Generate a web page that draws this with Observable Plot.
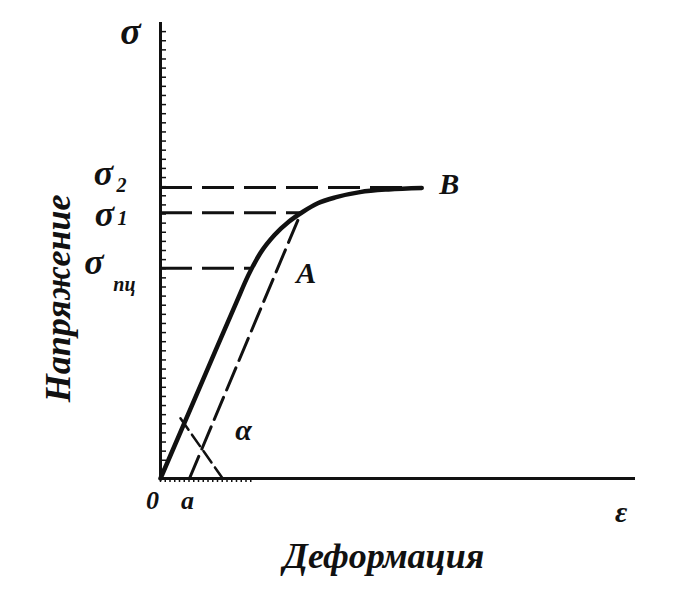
<!DOCTYPE html>
<html><head><meta charset="utf-8">
<script src="https://cdn.jsdelivr.net/npm/d3@7"></script>
<script src="https://cdn.jsdelivr.net/npm/@observablehq/plot@0.6"></script>
<style>body{margin:0;background:#fff}</style>
</head><body><div id="chart"></div>
<script>
// loading curve (strain, stress)
const curveX = [0, 9.5, 16, 18.5, 21, 24, 27, 30, 33, 37, 42, 48, 55];
const curveY = [0, 23, 38.7, 44.6, 49.4, 53.4, 56.3, 58.5, 60.3, 61.7, 62.8, 63.4, 63.7];
// characteristic stress levels
const levelMain = ["σ", "σ", "σ"];
const levelSub = ["2", "1", "пц"];
const levelY = [63.8, 58.3, 46.1];
const levelEndX = [55, 29.5, 19];
// unloading line from point A to a
const unloadX = [6.1, 29.5];
const unloadY = [0, 58.1];
// angle alpha marker
const angleX = [4.2, 13.1];
const angleY = [13.2, 0];
// point labels
const ptLabel = ["σ", "0", "a", "ε", "В", "А", "α"];
const ptX = [-6.3, -1.7, 5.7, 97, 60.8, 30.7, 17.5];
const ptY = [98, -4.8, -4.8, -7.5, 64.5, 45, 10.5];
const yTitle = "Напряжение";
const xTitle = "Деформация";

const curve = curveX.map((x, i) => ({x, y: curveY[i]}));
const levels = levelY.map((y, i) => ({y, x2: levelEndX[i], main: levelMain[i], sub: levelSub[i]}));
const unload = unloadX.map((x, i) => ({x, y: unloadY[i]}));
const angle = angleX.map((x, i) => ({x, y: angleY[i]}));
const pts = ptLabel.map((t, i) => ({t, x: ptX[i], y: ptY[i]}));

const font = "Liberation Serif";
const ink = "#111";
const lab = {fontWeight: "bold", fontStyle: "italic", fill: ink};

const chart = Plot.plot({
  width: 684, height: 592,
  marginLeft: 160, marginRight: 49, marginTop: 22, marginBottom: 114,
  x: {type: "linear", domain: [0, 100], axis: null},
  y: {type: "linear", domain: [0, 100], axis: null},
  style: {fontFamily: font, background: "#fff"},
  marks: [
    Plot.axisY({ticks: d3.range(0, 100, 2), tickSize: -6, tickFormat: () => "", stroke: ink, strokeWidth: 1.5, label: null}),
    Plot.axisX({ticks: d3.range(0, 20, 1), tickSize: 4, tickFormat: () => "", stroke: ink, strokeWidth: 1.5, label: null}),
    Plot.ruleX([0], {y1: 0, y2: 100, stroke: ink, strokeWidth: 3}),
    Plot.ruleY([0], {x1: 0, x2: 100, stroke: ink, strokeWidth: 3}),
    // dashed level lines
    Plot.ruleY(levels, {y: "y", x1: 0, x2: "x2", stroke: ink, strokeWidth: 3, strokeDasharray: "32,10"}),
    // unloading dashed line
    Plot.line(unload, {x: "x", y: "y", stroke: ink, strokeWidth: 3, strokeDasharray: "24,8"}),
    // angle marker
    Plot.line(angle, {x: "x", y: "y", stroke: ink, strokeWidth: 2.5, strokeDasharray: "14,6"}),
    // loading curve
    Plot.line(curve, {x: "x", y: "y", curve: "monotone-x", stroke: ink, strokeWidth: 4.5}),
    // level labels
    Plot.text(levels.slice(0, 1), {x: -12, y: "y", text: "main", dy: -14, fontSize: 36, ...lab}),
    Plot.text(levels.slice(1, 2), {x: -11.8, y: "y", text: "main", dy: 2, fontSize: 36, ...lab}),
    Plot.text(levels.slice(2, 3), {x: -14, y: "y", text: "main", dy: -6, fontSize: 36, ...lab}),
    Plot.text(levels.slice(0, 1), {x: -8.2, y: "y", text: "sub", dy: -2, fontSize: 20, ...lab}),
    Plot.text(levels.slice(1, 2), {x: -8, y: "y", text: "sub", dy: 6, fontSize: 20, ...lab}),
    Plot.text(levels.slice(2, 3), {x: -7.6, y: "y", text: "sub", dy: 16, fontSize: 20, ...lab}),
    // point labels
    Plot.text(pts.slice(0, 1), {x: "x", y: "y", text: "t", fontSize: 38, ...lab}),
    Plot.text(pts.slice(1, 3), {x: "x", y: "y", text: "t", fontSize: 26, ...lab}),
    Plot.text(pts.slice(3), {x: "x", y: "y", text: "t", fontSize: 30, ...lab}),
    // axis titles
    Plot.text([yTitle], {x: -21.5, y: 39.5, text: d => d, rotate: -90, fontSize: 36, ...lab}),
    Plot.text([xTitle], {x: 47, y: -17.1, text: d => d, fontSize: 36, ...lab})
  ]
});
document.getElementById("chart").appendChild(chart);
</script></body></html>
